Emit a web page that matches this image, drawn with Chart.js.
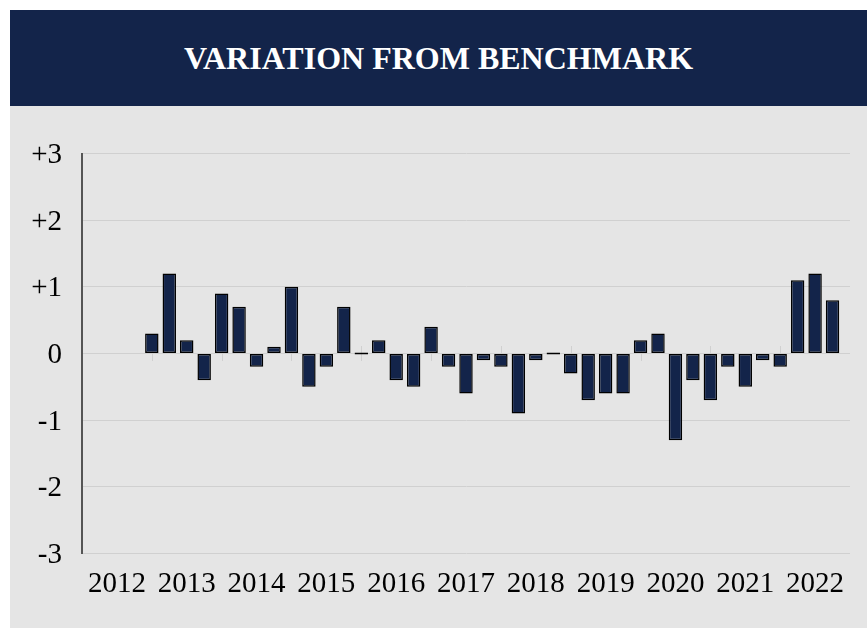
<!DOCTYPE html>
<html>
<head>
<meta charset="utf-8">
<script src="https://cdn.jsdelivr.net/npm/chart.js@4/dist/chart.umd.min.js"></script>
<style>
    html, body { margin: 0; padding: 0; background: #fff; }
    body { width: 867px; height: 628px; position: relative; overflow: hidden; }
    #title-bar {
        position: absolute; left: 10px; top: 10px; width: 857px; height: 96px;
        background: #13244a; color: #fff;
        display: flex; align-items: center; justify-content: center;
        font: bold 32px 'Liberation Serif', 'Times New Roman', serif;
    }
    #panel { position: absolute; left: 10px; top: 106px; width: 857px; height: 522px; background: #e5e5e5; }
    #chart { display: block; }
</style>
</head>
<body>
<div id="title-bar">VARIATION FROM BENCHMARK</div>
<div id="panel"><canvas id="chart" width="857" height="522"></canvas></div>

<script>
// ─── Data ─────────────────────────────────────────────────────────────────────
// quarter-end dates; bars sit on them, year labels sit mid-year (Jun)
const quarterEnds = [
    'Dec 2011',
    'Mar 2012', 'Jun 2012', 'Sep 2012', 'Dec 2012',
    'Mar 2013', 'Jun 2013', 'Sep 2013', 'Dec 2013',
    'Mar 2014', 'Jun 2014', 'Sep 2014', 'Dec 2014',
    'Mar 2015', 'Jun 2015', 'Sep 2015', 'Dec 2015',
    'Mar 2016', 'Jun 2016', 'Sep 2016', 'Dec 2016',
    'Mar 2017', 'Jun 2017', 'Sep 2017', 'Dec 2017',
    'Mar 2018', 'Jun 2018', 'Sep 2018', 'Dec 2018',
    'Mar 2019', 'Jun 2019', 'Sep 2019', 'Dec 2019',
    'Mar 2020', 'Jun 2020', 'Sep 2020', 'Dec 2020',
    'Mar 2021', 'Jun 2021', 'Sep 2021', 'Dec 2021',
    'Mar 2022', 'Jun 2022', 'Sep 2022', 'Dec 2022'
];

const variation = [
    null,
    null, null, null, 0.3,
    1.2, 0.2, -0.4, 0.9,
    0.7, -0.2, 0.1, 1.0,
    -0.5, -0.2, 0.7, 0,
    0.2, -0.4, -0.5, 0.4,
    -0.2, -0.6, -0.1, -0.2,
    -0.9, -0.1, 0, -0.3,
    -0.7, -0.6, -0.6, 0.2,
    0.3, -1.3, -0.4, -0.7,
    -0.2, -0.5, -0.1, -0.2,
    1.1, 1.2, 0.8, null
];

const yearLabels = ['2012', '2013', '2014', '2015', '2016', '2017', '2018', '2019', '2020', '2021', '2022'];
const yTickValues = [-3, -2, -1, 0, 1, 2, 3];
const yTickLabels = ['-3', '-2', '-1', '0', '+1', '+2', '+3'];

const NAVY = '#13244a';
const GRID = '#d0d0d0';
const SERIF = "'Liberation Serif', 'Times New Roman', serif";

// ─── Year boundary ticks across the zero line ────────────────────────────────
const yearTicks = {
    id: 'yearTicks',
    beforeDatasetsDraw(chart) {
        const { ctx, scales: { x, y } } = chart;
        const y0 = y.getPixelForValue(0);
        ctx.save();
        ctx.strokeStyle = GRID;
        ctx.lineWidth = 1;
        quarterEnds.forEach((q, i) => {
            if (!q.startsWith('Dec') || i === 0 || i === quarterEnds.length - 1) return;
            const px = Math.round(x.getPixelForValue(i)) + 0.5;
            ctx.beginPath();
            ctx.moveTo(px, y0 - 7.5);
            ctx.lineTo(px, y0 + 7.5);
            ctx.stroke();
        });
        ctx.restore();
    }
};

// ─── Chart ────────────────────────────────────────────────────────────────────
new Chart(document.getElementById('chart'), {
    type: 'bar',
    data: {
        labels: quarterEnds,
        datasets: [{
            data: variation,
            backgroundColor: NAVY,
            borderColor: '#000',
            borderWidth: 1.5,
            borderSkipped: false,
            minBarLength: 2,
            categoryPercentage: 1,
            barPercentage: 0.77
        }]
    },
    options: {
        responsive: false,
        animation: false,
        devicePixelRatio: 1,
        layout: { padding: { left: 0, top: 47.5, right: 17, bottom: 0 } },
        plugins: { legend: { display: false }, tooltip: { enabled: false } },
        scales: {
            x: {
                type: 'category',
                offset: false,
                grid: { display: false, drawTicks: false },
                border: { display: false },
                ticks: {
                    autoSkip: false,
                    maxRotation: 0,
                    minRotation: 0,
                    padding: 13,
                    color: '#000',
                    font: { family: SERIF, size: 29 },
                    callback: (v, i) => {
                        const q = quarterEnds[i];
                        if (!q.startsWith('Jun')) return '';
                        const yr = q.slice(4);
                        return yearLabels.includes(yr) ? yr : '';
                    }
                },
                afterFit: s => { s.height = 74.5; }
            },
            y: {
                min: -3,
                max: 3,
                afterBuildTicks: s => { s.ticks = yTickValues.map(v => ({ value: v })); },
                grid: { color: GRID, lineWidth: 1, drawTicks: false },
                border: { display: true, color: '#555', width: 2 },
                ticks: {
                    padding: 20,
                    labelOffset: 2,
                    color: '#000',
                    font: { family: SERIF, size: 29 },
                    callback: v => yTickLabels[yTickValues.indexOf(v)]
                },
                afterFit: s => { s.width = 72; }
            }
        }
    },
    plugins: [yearTicks]
});
</script>
</body>
</html>
